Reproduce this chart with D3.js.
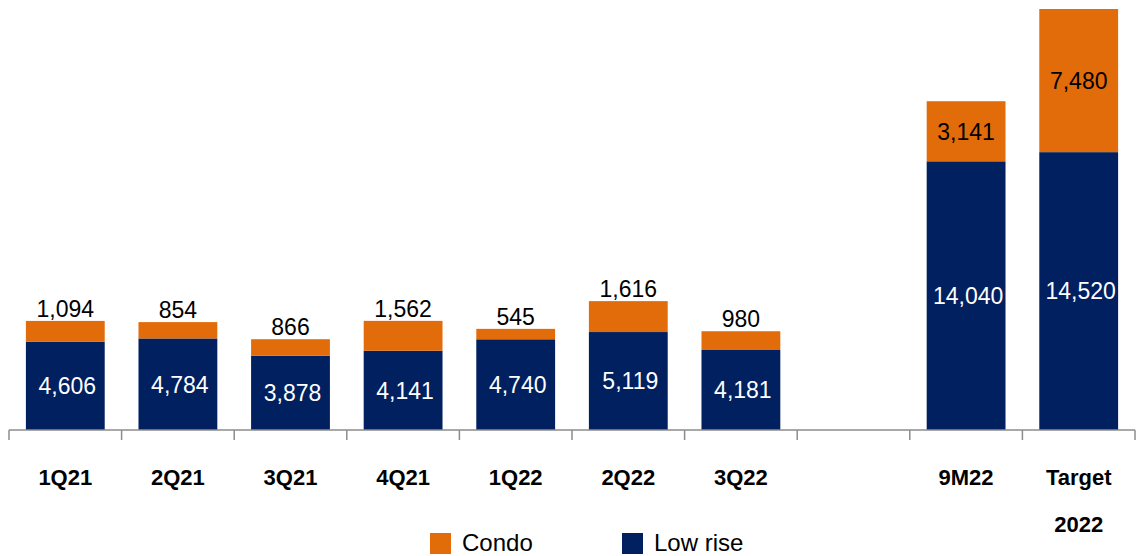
<!DOCTYPE html>
<html>
<head>
<meta charset="utf-8">
<script src="https://cdn.jsdelivr.net/npm/d3@7"></script>
<style>
  body { margin: 0; background: #fff; }
  svg { display: block; font-family: "Liberation Sans", Arial, sans-serif; }
</style>
</head>
<body>
<div id="chart"></div>
<script>
// Datos
const keys = ["1Q21", "2Q21", "3Q21", "4Q21", "1Q22", "2Q22", "3Q22", "gap", "9M22", "T2022"]
const labels = [["1Q21"], ["2Q21"], ["3Q21"], ["4Q21"], ["1Q22"], ["2Q22"], ["3Q22"], [], ["9M22"], ["Target", "2022"]]
const lowRise = [4606, 4784, 3878, 4141, 4740, 5119, 4181, null, 14040, 14520]
const condo = [1094, 854, 866, 1562, 545, 1616, 980, null, 3141, 7480]
// Etiqueta del condo dentro de la barra (solo las dos últimas)
const condoInside = [false, false, false, false, false, false, false, false, true, true]

const width = 1139, height = 556
const navy = "#002060", orange = "#E36C0A"

const svg = d3.select("#chart").append("svg")
    .attr("width", width)
    .attr("height", height)

const x = d3.scaleBand()
    .domain(keys)
    .range([9, 1135])
    .paddingInner(0.3)
    .paddingOuter(0.15)

const y = d3.scaleLinear()
    .domain([0, 22000])
    .range([430, 9])

const data = keys.map((k, i) => ({
    key: k, low: lowRise[i], condo: condo[i], inside: condoInside[i], label: labels[i]
})).filter(d => d.low != null)

const fmt = d3.format(",")

// Barras
const g = svg.append("g")

g.selectAll("rect.low")
    .data(data)
    .join("rect")
    .attr("class", "low")
    .attr("x", d => x(d.key))
    .attr("width", x.bandwidth())
    .attr("y", d => y(d.low))
    .attr("height", d => y(0) - y(d.low))
    .attr("fill", navy)

g.selectAll("rect.condo")
    .data(data)
    .join("rect")
    .attr("class", "condo")
    .attr("x", d => x(d.key))
    .attr("width", x.bandwidth())
    .attr("y", d => y(d.low + d.condo))
    .attr("height", d => y(d.low) - y(d.low + d.condo))
    .attr("fill", orange)

// Etiquetas de valores
g.selectAll("text.low")
    .data(data)
    .join("text")
    .attr("class", "low")
    .attr("x", d => x(d.key) + x.bandwidth() / 2 + 2)
    .attr("y", d => (y(0) + y(d.low)) / 2)
    .attr("dy", "0.36em")
    .attr("text-anchor", "middle")
    .attr("fill", "#fff")
    .attr("font-size", "23px")
    .text(d => fmt(d.low))

g.selectAll("text.condo")
    .data(data)
    .join("text")
    .attr("class", "condo")
    .attr("x", d => x(d.key) + x.bandwidth() / 2)
    .attr("y", d => d.inside ? (y(d.low) + y(d.low + d.condo)) / 2 : y(d.low + d.condo) - 4)
    .attr("dy", d => d.inside ? "0.36em" : 0)
    .attr("text-anchor", "middle")
    .attr("fill", "#000")
    .attr("font-size", "23px")
    .text(d => fmt(d.condo))

// Eje X
const half = (x.step() - x.bandwidth()) / 2
const tickPos = keys.map(k => x(k) - half).concat([x(keys[keys.length - 1]) + x.bandwidth() + half])

const axis = svg.append("g").attr("stroke", "#8c8c8c").attr("stroke-width", 1.5)
axis.append("line")
    .attr("x1", tickPos[0]).attr("x2", tickPos[tickPos.length - 1])
    .attr("y1", y(0)).attr("y2", y(0))
axis.selectAll("line.tick")
    .data(tickPos)
    .join("line")
    .attr("class", "tick")
    .attr("x1", d => d).attr("x2", d => d)
    .attr("y1", y(0)).attr("y2", y(0) + 10)

// Etiquetas de categorías
const cat = svg.append("g")
    .attr("font-size", "22px")
    .attr("font-weight", "bold")
    .attr("text-anchor", "middle")
    .attr("fill", "#000")

keys.forEach((k, i) => {
    labels[i].forEach((line, j) => {
        cat.append("text")
            .attr("x", x(k) + x.bandwidth() / 2)
            .attr("y", 485 + j * 47)
            .text(line)
    })
})

// Leyenda
const legend = [
    { name: "Condo", color: orange, x: 430 },
    { name: "Low rise", color: navy, x: 622 }
]
const lg = svg.append("g")
legend.forEach(l => {
    lg.append("rect")
        .attr("x", l.x).attr("y", 533)
        .attr("width", 21).attr("height", 21)
        .attr("fill", l.color)
    lg.append("text")
        .attr("x", l.x + 32).attr("y", 551)
        .attr("font-size", "24px")
        .attr("fill", "#000")
        .text(l.name)
})
</script>
</body>
</html>
